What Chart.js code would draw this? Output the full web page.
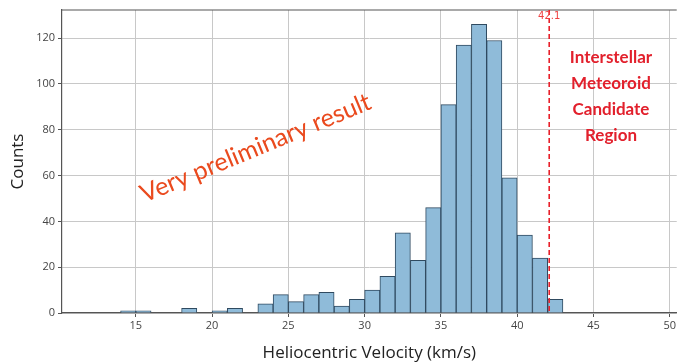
<!DOCTYPE html>
<html>
<head>
<meta charset="utf-8">
<script src="https://cdn.jsdelivr.net/npm/chart.js@4"></script>
<style>
  html, body { margin: 0; padding: 0; background: #fff; }
  #wrap { width: 678px; height: 363px; position: relative; }
</style>
</head>
<body>
<div id="wrap"><canvas id="myChart"></canvas></div>
<script>
// histogram bins (left edge, km/s) and counts
var binStarts = [14, 15, 16, 17, 18, 19, 20, 21, 22, 23, 24, 25, 26, 27, 28,
                 29, 30, 31, 32, 33, 34, 35, 36, 37, 38, 39, 40, 41, 42];
var counts    = [1, 1, 0, 0, 2, 0, 1, 2, 0, 4, 8, 5, 8, 9, 3,
                 6, 10, 16, 35, 23, 46, 91, 117, 126, 119, 59, 34, 24, 6];
var xTicks = [15, 20, 25, 30, 35, 40, 45, 50];
var yTicks = [0, 20, 40, 60, 80, 100, 120];
var cutValue = 42.1;
var regionLines = ['Interstellar', 'Meteoroid', 'Candidate', 'Region'];

var points = binStarts.map(function (b, i) { return { x: b + 0.5, y: counts[i] }; });

// dashed cut line, top spine and the red notes
var notes = {
    id: 'notes',
    afterDatasetsDraw: function (chart) {
        var ctx = chart.ctx, xs = chart.scales.x, ys = chart.scales.y, a = chart.chartArea;
        ctx.save();
        // top spine
        ctx.strokeStyle = '#555';
        ctx.lineWidth = 1.2;
        ctx.beginPath();
        ctx.moveTo(a.left, a.top);
        ctx.lineTo(a.right, a.top);
        ctx.stroke();

        // cut line
        var cx = xs.getPixelForValue(cutValue);
        ctx.strokeStyle = '#e8202a';
        ctx.lineWidth = 1.6;
        ctx.setLineDash([5, 3]);
        ctx.beginPath();
        ctx.moveTo(cx, a.top);
        ctx.lineTo(cx, a.bottom);
        ctx.stroke();
        ctx.setLineDash([]);

        ctx.fillStyle = '#f04040';
        ctx.font = '10px "DejaVu Sans"';
        ctx.textAlign = 'center';
        ctx.textBaseline = 'middle';
        ctx.fillText(String(cutValue), cx, a.top + 6);

        // region text
        ctx.fillStyle = '#e2202c';
        ctx.font = 'bold 17px Lato';
        var rx = xs.getPixelForValue(46.15);
        var ry = ys.getPixelForValue(111.5);
        regionLines.forEach(function (t, i) {
            ctx.fillText(t, rx, ry + i * 26);
        });

        // watermark
        ctx.translate(xs.getPixelForValue(22.85), ys.getPixelForValue(72));
        ctx.rotate(-22.5 * Math.PI / 180);
        ctx.fillStyle = '#ea4a1e';
        ctx.font = '25px Lato';
        ctx.fillText('Very preliminary result', 0, 0);
        ctx.restore();
    }
};

new Chart(document.getElementById('myChart'), {
    type: 'bar',
    data: {
        datasets: [{
            data: points,
            backgroundColor: '#8fbbd9',
            borderColor: '#2f4a60',
            borderWidth: 1,
            borderSkipped: 'start',
            barPercentage: 1,
            categoryPercentage: 1
        }]
    },
    options: {
        responsive: true,
        maintainAspectRatio: false,
        animation: false,
        layout: { padding: { top: 10, left: 0, right: 0, bottom: 0 } },
        plugins: { legend: { display: false }, tooltip: { enabled: false } },
        scales: {
            x: {
                type: 'linear',
                offset: false,
                min: 10.16,
                max: 50.46,
                afterBuildTicks: function (s) { s.ticks = xTicks.map(function (v) { return { value: v }; }); },
                afterFit: function (s) { s.height = 50; },
                grid: { offset: false, color: '#c8c8c8', tickLength: 4, tickColor: '#555' },
                border: { color: '#555', width: 1.2 },
                ticks: { color: '#444', font: { family: 'Open Sans', size: 11 }, padding: 2, maxRotation: 0 },
                title: { display: true, text: 'Heliocentric Velocity (km/s)', color: '#222',
                         font: { family: 'Open Sans', size: 17 }, padding: { top: 9, bottom: 0 } }
            },
            y: {
                min: 0,
                max: 132.3,
                afterBuildTicks: function (s) { s.ticks = yTicks.map(function (v) { return { value: v }; }); },
                afterFit: function (s) { s.width = 62; },
                grid: { color: '#c8c8c8', tickLength: 4, tickColor: '#555' },
                border: { color: '#555', width: 1.2 },
                ticks: { color: '#444', font: { family: 'Open Sans', size: 11 }, padding: 3 },
                title: { display: true, text: 'Counts', color: '#222',
                         font: { family: 'Open Sans', size: 17 }, padding: { top: 8, bottom: 0 } }
            }
        }
    },
    plugins: [notes]
});
</script>
</body>
</html>
